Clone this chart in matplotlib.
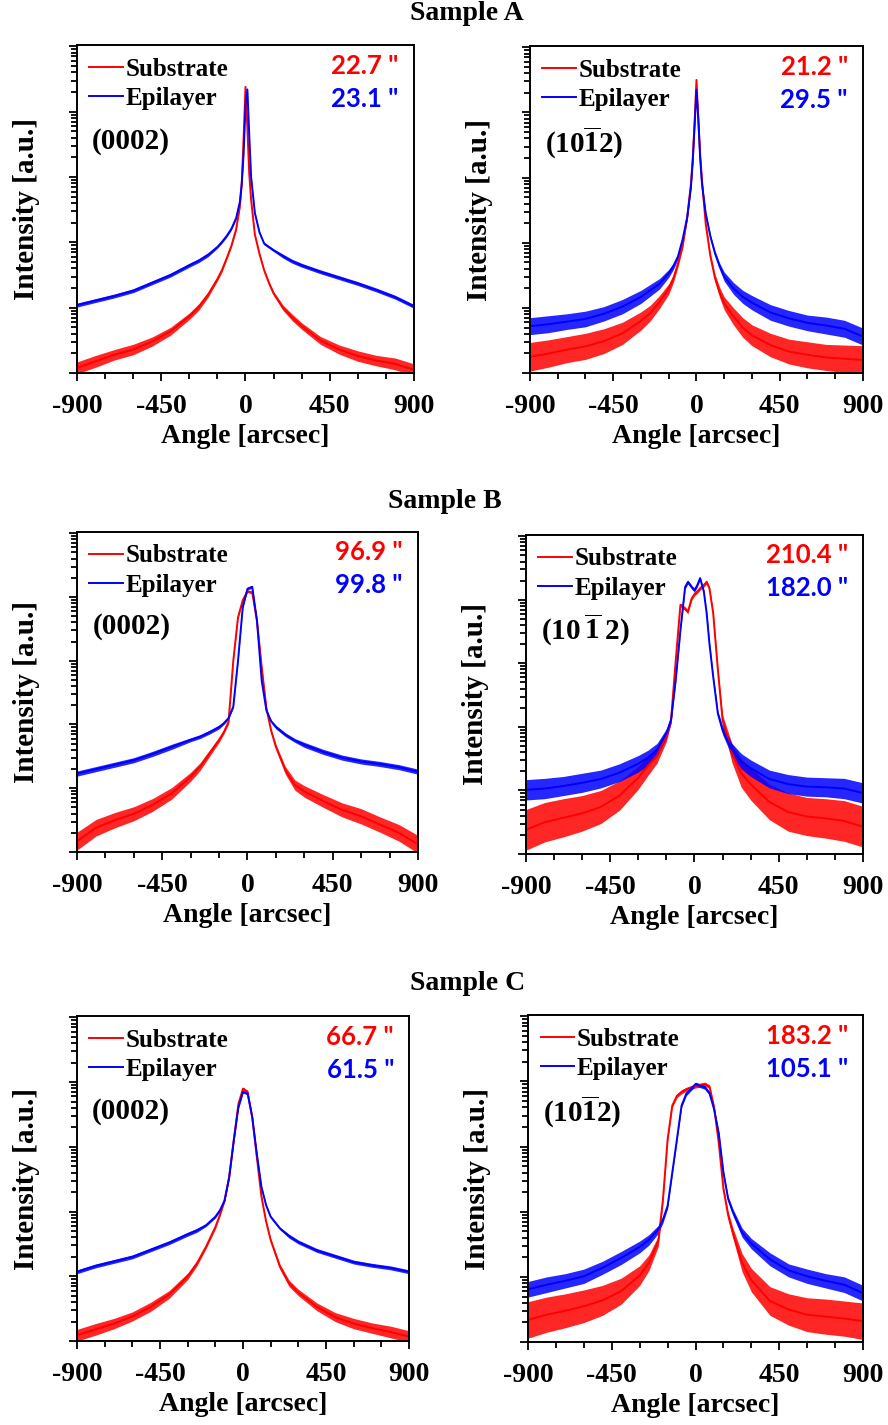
import numpy as np
import matplotlib as mpl
mpl.use('Agg')
import matplotlib.pyplot as plt
from matplotlib.ticker import FixedLocator, LogLocator, NullFormatter

plt.rcParams['font.family'] = ['Liberation Serif', 'DejaVu Serif']
plt.rcParams['font.weight'] = 'bold'
plt.rcParams['axes.unicode_minus'] = False
plt.rcParams['mathtext.fontset'] = 'custom'
plt.rcParams['mathtext.rm'] = 'Liberation Serif:bold'
plt.rcParams['mathtext.bf'] = 'Liberation Serif:bold'

# intensities are log10(counts); *_n = half width of the noise band
# ---- Sample A (0002)
ang_A0 = [-900, -800, -700, -600, -500, -400, -300, -250, -200, -150, -125, -100, -75, -50, -30, -20, -10, 0,
          10, 20, 30, 50, 75, 100, 125, 150, 200, 250, 300, 400, 500, 600, 700, 800, 900]
sub_A0 = [0.08, 0.18, 0.28, 0.36, 0.48, 0.64, 0.87, 1.01, 1.20, 1.44, 1.58, 1.76, 1.95, 2.20, 2.55, 2.90, 3.60, 4.38,
          3.75, 3.05, 2.65, 2.12, 1.82, 1.57, 1.38, 1.22, 1.00, 0.85, 0.72, 0.50, 0.36, 0.26, 0.19, 0.14, 0.05]
epi_A0 = [1.04, 1.11, 1.18, 1.26, 1.38, 1.50, 1.65, 1.72, 1.81, 1.93, 2.01, 2.10, 2.21, 2.37, 2.62, 2.90, 3.35, 4.10,
          4.34, 3.65, 3.00, 2.45, 2.15, 1.98, 1.93, 1.88, 1.79, 1.71, 1.65, 1.55, 1.46, 1.37, 1.27, 1.16, 1.02]
sub_nA0 = [0.09, 0.09, 0.08, 0.08, 0.07, 0.06, 0.05, 0.05, 0.04, 0.03, 0.03, 0.02, 0.02, 0.02, 0.02, 0.02, 0.02, 0.02,
           0.02, 0.02, 0.02, 0.02, 0.02, 0.02, 0.03, 0.03, 0.04, 0.05, 0.05, 0.06, 0.07, 0.08, 0.08, 0.09, 0.09]
epi_nA0 = [0.03, 0.03, 0.03, 0.03, 0.03, 0.03, 0.03, 0.03, 0.03, 0.02, 0.02, 0.02, 0.02, 0.02, 0.02, 0.02, 0.02, 0.02,
           0.02, 0.02, 0.02, 0.02, 0.02, 0.02, 0.02, 0.02, 0.03, 0.03, 0.03, 0.03, 0.03, 0.03, 0.03, 0.03, 0.03]

# ---- Sample A (10-12)
ang_A1 = ang_A0
sub_A1 = [0.25, 0.30, 0.36, 0.41, 0.49, 0.61, 0.80, 0.92, 1.09, 1.29, 1.45, 1.68, 1.95, 2.39, 2.90, 3.30, 3.85, 4.50,
          3.90, 3.35, 2.95, 2.29, 1.80, 1.46, 1.24, 1.07, 0.87, 0.70, 0.58, 0.43, 0.33, 0.28, 0.24, 0.22, 0.20]
epi_A1 = [0.72, 0.75, 0.79, 0.83, 0.91, 1.02, 1.17, 1.27, 1.37, 1.53, 1.64, 1.79, 2.05, 2.39, 2.85, 3.25, 3.80, 4.35,
          3.90, 3.30, 2.90, 2.45, 2.10, 1.84, 1.64, 1.48, 1.30, 1.17, 1.08, 0.93, 0.84, 0.77, 0.73, 0.68, 0.56]
sub_nA1 = [0.22, 0.21, 0.20, 0.20, 0.19, 0.17, 0.14, 0.12, 0.10, 0.08, 0.06, 0.05, 0.04, 0.03, 0.03, 0.03, 0.03, 0.03,
           0.03, 0.03, 0.03, 0.03, 0.04, 0.06, 0.08, 0.10, 0.13, 0.15, 0.16, 0.18, 0.19, 0.20, 0.20, 0.21, 0.22]
epi_nA1 = [0.13, 0.13, 0.12, 0.12, 0.11, 0.11, 0.10, 0.09, 0.08, 0.06, 0.05, 0.04, 0.03, 0.03, 0.03, 0.03, 0.03, 0.03,
           0.03, 0.03, 0.03, 0.03, 0.03, 0.04, 0.05, 0.07, 0.09, 0.10, 0.11, 0.12, 0.12, 0.12, 0.13, 0.13, 0.13]

# ---- Sample B (0002)
ang_B0 = [-900, -800, -700, -600, -500, -400, -300, -250, -200, -150, -125, -100, -75, -50, -25, 0,
          25, 50, 75, 100, 125, 150, 200, 250, 300, 400, 500, 600, 700, 800, 900]
sub_B0 = [0.17, 0.38, 0.50, 0.60, 0.74, 0.92, 1.18, 1.34, 1.55, 1.76, 1.88, 2.04, 3.00, 3.68, 3.95, 4.09,
          4.07, 3.63, 2.90, 2.25, 1.90, 1.65, 1.28, 1.05, 0.95, 0.80, 0.66, 0.56, 0.43, 0.30, 0.12]
epi_B0 = [1.23, 1.30, 1.37, 1.44, 1.54, 1.65, 1.76, 1.81, 1.88, 1.96, 2.02, 2.10, 2.28, 3.00, 3.84, 4.13,
          4.16, 3.63, 2.69, 2.22, 2.05, 1.96, 1.84, 1.75, 1.68, 1.57, 1.48, 1.42, 1.38, 1.33, 1.26]
sub_nB0 = [0.14, 0.13, 0.12, 0.11, 0.10, 0.09, 0.07, 0.06, 0.05, 0.04, 0.03, 0.03, 0.02, 0.02, 0.02, 0.02,
           0.02, 0.02, 0.02, 0.03, 0.03, 0.04, 0.06, 0.08, 0.09, 0.10, 0.11, 0.12, 0.12, 0.13, 0.14]
epi_nB0 = [0.04, 0.04, 0.04, 0.04, 0.04, 0.04, 0.03, 0.03, 0.03, 0.03, 0.02, 0.02, 0.02, 0.02, 0.02, 0.02,
           0.02, 0.02, 0.02, 0.02, 0.02, 0.03, 0.03, 0.03, 0.04, 0.04, 0.04, 0.04, 0.04, 0.04, 0.04]

# ---- Sample B (10-12)
ang_B1 = [-900, -800, -700, -600, -500, -400, -300, -250, -200, -150, -125, -100, -75, -50, -35, -15, 0,
          15, 30, 50, 65, 80, 100, 125, 150, 200, 250, 300, 400, 500, 600, 700, 800, 900]
sub_B1 = [0.38, 0.50, 0.57, 0.64, 0.74, 0.92, 1.20, 1.38, 1.55, 1.85, 2.11, 3.05, 3.92, 3.86, 3.81, 4.02, 4.09,
          4.13, 4.18, 4.23, 4.28, 4.18, 3.79, 2.90, 2.11, 1.59, 1.27, 1.10, 0.82, 0.66, 0.59, 0.56, 0.52, 0.43]
epi_B1 = [1.01, 1.03, 1.07, 1.12, 1.18, 1.28, 1.42, 1.51, 1.64, 1.90, 2.11, 2.74, 3.52, 4.20, 4.28, 4.20, 4.15,
          4.23, 4.34, 4.13, 3.79, 3.31, 2.79, 2.21, 1.95, 1.64, 1.46, 1.35, 1.18, 1.10, 1.06, 1.05, 1.03, 0.96]
sub_nB1 = [0.32, 0.31, 0.30, 0.28, 0.26, 0.23, 0.18, 0.15, 0.12, 0.08, 0.05, 0.03, 0.03, 0.03, 0.03, 0.03, 0.03,
           0.03, 0.03, 0.03, 0.03, 0.03, 0.03, 0.04, 0.08, 0.15, 0.22, 0.25, 0.28, 0.30, 0.30, 0.31, 0.32, 0.32]
epi_nB1 = [0.16, 0.16, 0.15, 0.15, 0.14, 0.14, 0.13, 0.12, 0.10, 0.07, 0.05, 0.03, 0.03, 0.03, 0.03, 0.03, 0.03,
           0.03, 0.03, 0.03, 0.03, 0.03, 0.03, 0.04, 0.07, 0.10, 0.12, 0.13, 0.14, 0.15, 0.15, 0.15, 0.16, 0.16]

# ---- Sample C (0002)
ang_C0 = ang_B0
sub_C0 = [0.09, 0.18, 0.27, 0.38, 0.53, 0.72, 1.00, 1.20, 1.46, 1.76, 1.95, 2.17, 2.53, 3.10, 3.66, 3.90,
          3.85, 3.46, 2.84, 2.23, 1.85, 1.56, 1.15, 0.89, 0.75, 0.53, 0.37, 0.27, 0.20, 0.14, 0.07]
epi_C0 = [1.07, 1.16, 1.23, 1.30, 1.41, 1.52, 1.65, 1.71, 1.79, 1.92, 2.02, 2.17, 2.53, 3.10, 3.61, 3.85,
          3.82, 3.46, 2.89, 2.38, 2.10, 1.92, 1.74, 1.62, 1.53, 1.40, 1.31, 1.22, 1.17, 1.13, 1.07]
sub_nC0 = [0.09, 0.09, 0.08, 0.07, 0.07, 0.06, 0.05, 0.04, 0.03, 0.03, 0.02, 0.02, 0.02, 0.02, 0.02, 0.02,
           0.02, 0.02, 0.02, 0.02, 0.02, 0.03, 0.04, 0.05, 0.05, 0.06, 0.07, 0.08, 0.08, 0.09, 0.09]
epi_nC0 = [0.03, 0.03, 0.03, 0.03, 0.03, 0.03, 0.03, 0.03, 0.02, 0.02, 0.02, 0.02, 0.02, 0.02, 0.02, 0.02,
           0.02, 0.02, 0.02, 0.02, 0.02, 0.02, 0.02, 0.03, 0.03, 0.03, 0.03, 0.03, 0.03, 0.03, 0.03]

# ---- Sample C (10-12)
ang_C1 = [-900, -800, -700, -600, -500, -400, -300, -250, -200, -175, -150, -125, -100, -75, -50, 0,
          50, 75, 100, 125, 150, 175, 200, 250, 300, 400, 500, 600, 700, 800, 900]
sub_C1 = [0.34, 0.42, 0.48, 0.55, 0.64, 0.78, 1.02, 1.22, 1.55, 2.19, 3.11, 3.63, 3.78, 3.84, 3.88, 3.93,
          3.96, 3.92, 3.60, 3.05, 2.35, 1.95, 1.68, 1.22, 0.95, 0.63, 0.50, 0.42, 0.39, 0.36, 0.32]
epi_C1 = [0.81, 0.88, 0.94, 1.01, 1.14, 1.29, 1.46, 1.57, 1.73, 1.88, 2.09, 2.60, 3.11, 3.63, 3.81, 3.96,
          3.91, 3.82, 3.57, 3.20, 2.60, 2.20, 2.00, 1.68, 1.51, 1.27, 1.10, 1.01, 0.94, 0.88, 0.75]
sub_nC1 = [0.28, 0.27, 0.26, 0.25, 0.23, 0.20, 0.15, 0.12, 0.08, 0.05, 0.03, 0.03, 0.03, 0.03, 0.03, 0.03,
           0.03, 0.03, 0.03, 0.03, 0.04, 0.06, 0.08, 0.14, 0.18, 0.22, 0.24, 0.26, 0.27, 0.27, 0.28]
epi_nC1 = [0.12, 0.12, 0.11, 0.11, 0.10, 0.10, 0.09, 0.08, 0.06, 0.05, 0.04, 0.03, 0.03, 0.03, 0.03, 0.03,
           0.03, 0.03, 0.03, 0.03, 0.03, 0.04, 0.05, 0.07, 0.08, 0.10, 0.10, 0.11, 0.11, 0.12, 0.12]

samples = ['Sample A', 'Sample B', 'Sample C']
planes = [r'(0002)', r'$\mathbf{(10\overline{1}2)}$',
          r'(0002)', r'$\mathbf{(10\,\overline{1}\,2)}$',
          r'(0002)', r'$\mathbf{(10\overline{1}2)}$']
fwhm_sub = ['22.7 "', '21.2 "', '96.9 "', '210.4 "', '66.7 "', '183.2 "']
fwhm_epi = ['23.1 "', '29.5 "', '99.8 "', '182.0 "', '61.5 "', '105.1 "']

panels = [
    (ang_A0, sub_A0, epi_A0, sub_nA0, epi_nA0),
    (ang_A1, sub_A1, epi_A1, sub_nA1, epi_nA1),
    (ang_B0, sub_B0, epi_B0, sub_nB0, epi_nB0),
    (ang_B1, sub_B1, epi_B1, sub_nB1, epi_nB1),
    (ang_C0, sub_C0, epi_C0, sub_nC0, epi_nC0),
    (ang_C1, sub_C1, epi_C1, sub_nC1, epi_nC1),
]

# axes boxes in figure fraction (left, bottom, width, height)
boxes = [
    (0.0867, 0.7382, 0.3795, 0.2302), (0.5968, 0.7382, 0.3750, 0.2295),
    (0.0867, 0.4021, 0.3840, 0.2246), (0.5923, 0.4007, 0.3795, 0.2239),
    (0.0867, 0.0589, 0.3739, 0.2281), (0.5946, 0.0582, 0.3773, 0.2295),
]
title_pos = [(467, 14), (445, 502), (468, 984)]

RED = '#ff0000'
BLUE = '#0000ff'
FS = 20

fig = plt.figure(figsize=(8.88, 14.25), dpi=100)

for i, (ang, sub, epi, sn, en) in enumerate(panels):
    ax = fig.add_axes(boxes[i])
    ang = np.array(ang, dtype=float)
    sub = np.array(sub)
    epi = np.array(epi)
    sn = np.array(sn)
    en = np.array(en)
    ax.fill_between(ang, 10 ** (sub - sn), 10 ** (sub + sn), color=RED, lw=0, alpha=0.85)
    ax.plot(ang, 10 ** sub, color=RED, lw=1.4, label='Substrate')
    ax.fill_between(ang, 10 ** (epi - en), 10 ** (epi + en), color=BLUE, lw=0, alpha=0.85)
    ax.plot(ang, 10 ** epi, color=BLUE, lw=1.4, label='Epilayer')

    ax.set_yscale('log')
    ax.set_xlim(-900, 900)
    ax.set_ylim(1, 10 ** 5.02)
    ax.xaxis.set_major_locator(FixedLocator([-900, -450, 0, 450, 900]))
    ax.xaxis.set_minor_locator(FixedLocator([-750, -600, -300, -150, 150, 300, 600, 750]))
    ax.yaxis.set_major_locator(LogLocator(base=10, numticks=10))
    ax.yaxis.set_minor_locator(LogLocator(base=10, subs=np.arange(2, 10), numticks=20))
    ax.yaxis.set_major_formatter(NullFormatter())
    ax.yaxis.set_minor_formatter(NullFormatter())
    ax.tick_params(which='both', direction='out', width=1.3, top=False, right=False)
    ax.tick_params(which='major', length=6)
    ax.tick_params(which='minor', length=4)
    ax.tick_params(axis='x', labelsize=FS, pad=9)
    for sp in ax.spines.values():
        sp.set_linewidth(1.4)

    ax.set_xlabel('Angle [arcsec]', fontsize=FS, fontweight='bold', labelpad=4)
    ax.set_ylabel('Intensity [a.u.]', fontsize=FS + 1, fontweight='bold', labelpad=17)

    ax.legend(loc='upper left', frameon=False, handlelength=1.35, handletextpad=0.1,
              labelspacing=0.25, borderaxespad=0.2, borderpad=0.3,
              prop={'family': 'Liberation Serif', 'weight': 'bold', 'size': 18})
    ax.text(0.955, 0.937, fwhm_sub[i], transform=ax.transAxes, ha='right', va='center',
            color=RED, fontsize=18.5, fontweight='bold', family=['Lato', 'DejaVu Sans'])
    ax.text(0.955, 0.835, fwhm_epi[i], transform=ax.transAxes, ha='right', va='center',
            color=BLUE, fontsize=18.5, fontweight='bold', family=['Lato', 'DejaVu Sans'])
    ax.text(0.045, 0.705, planes[i], transform=ax.transAxes, ha='left', va='center',
            fontsize=FS + 1, fontweight='bold')

for name, (px, py) in zip(samples, title_pos):
    fig.text(px / 888, 1 - py / 1425, name, ha='center', va='center',
             fontsize=FS, fontweight='bold')

fig.savefig('out.png', dpi=100)
